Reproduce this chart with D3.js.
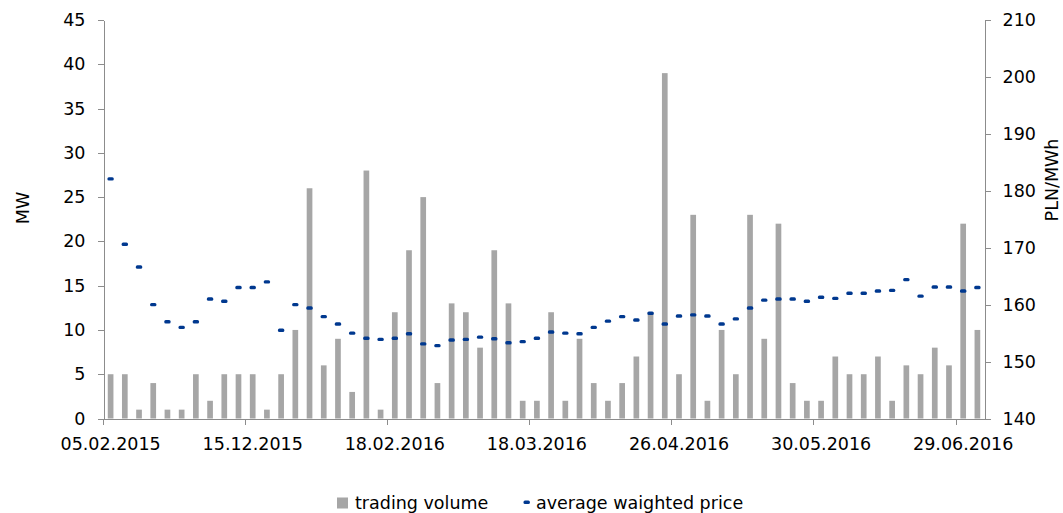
<!DOCTYPE html>
<html lang="en">
<head>
<meta charset="utf-8">
<title>Trading volume and average weighted price</title>
<script src="https://cdn.jsdelivr.net/npm/d3@7"></script>
<style>
  body { margin: 0; background: #fff; }
  svg text { font-family: "DejaVu Sans", sans-serif; font-size: 17.5px; fill: #000; }
  .axis path, .axis line { stroke: #8c8c8c; stroke-width: 1; shape-rendering: crispEdges; }
</style>
</head>
<body>
<script>
// data
var volume = [5,5,1,4,1,1,5,2,5,5,5,1,5,10,26,
              6,9,3,28,1,12,19,25,4,13,12,8,19,13,2,2,12,
              2,9,4,2,4,7,12,39,5,23,2,10,5,23,9,22,4,2,
              2,7,5,5,7,2,6,5,8,6,22,10];
var price = [182.1,170.6,166.6,160.0,157.0,156.0,157.0,161.0,160.6,163.0,163.0,164.0,155.5,160.0,159.4,157.9,
             156.6,155.0,154.1,153.9,154.1,154.9,153.1,152.8,153.8,153.9,154.3,154.0,153.3,153.5,154.1,155.2,
             155.0,154.9,156.0,157.1,157.9,157.3,158.5,156.6,158.0,158.2,158.0,156.6,157.5,159.4,160.8,161.0,161.0,160.6,
             161.3,161.1,162.0,162.0,162.4,162.5,164.4,161.5,163.1,163.1,162.4,163.0];
var tickLabels = ["05.02.2015","15.12.2015","18.02.2016","18.03.2016","26.04.2016","30.05.2016","29.06.2016"];
var labelEvery = 10;
var seriesNames = ["trading volume", "average waighted price"];

var w = 1063, h = 513;
var margin = {top: 20, right: 78.5, bottom: 94.5, left: 103.5};
var width = w - margin.left - margin.right,
    height = h - margin.top - margin.bottom;

var svg = d3.select("body").append("svg")
  .attr("width", w).attr("height", h);
var g = svg.append("g")
  .attr("transform", "translate(" + margin.left + "," + margin.top + ")");

var idx = d3.range(volume.length);

var x = d3.scaleBand().domain(idx).range([0, width])
  .paddingInner(0.6).paddingOuter(0.3);
var yL = d3.scaleLinear().domain([0, 45]).range([height, 0]);
var yR = d3.scaleLinear().domain([140, 210]).range([height, 0]);

// bars
g.append("g").selectAll("rect")
  .data(idx).enter().append("rect")
  .attr("x", function(i) { return x(i); })
  .attr("width", x.bandwidth())
  .attr("y", function(i) { return yL(volume[i]); })
  .attr("height", function(i) { return height - yL(volume[i]); })
  .style("fill", "#a6a6a6");

// price markers (short dashes)
g.append("g").selectAll("rect")
  .data(idx).enter().append("rect")
  .attr("x", function(i) { return x(i) + x.bandwidth() / 2 - 3.2; })
  .attr("y", function(i) { return yR(price[i]) - 1.7; })
  .attr("width", 6.4).attr("height", 3.4)
  .attr("rx", 1.5)
  .style("fill", "#00388f");

// left axis
var axL = g.append("g").attr("class", "axis")
  .call(d3.axisLeft(yL).tickValues(d3.range(0, 46, 5)).tickSizeInner(6).tickSizeOuter(0).tickPadding(12));
axL.selectAll("text").attr("font-family", null).attr("font-size", null);

// right axis
var axR = g.append("g").attr("class", "axis")
  .attr("transform", "translate(" + width + ",0)")
  .call(d3.axisRight(yR).tickValues(d3.range(140, 211, 10)).tickSizeInner(6).tickSizeOuter(0).tickPadding(12));
axR.selectAll("text").attr("font-family", null).attr("font-size", null);

// bottom axis: labels on every 10th category, ticks on category boundaries
var labelIdx = tickLabels.map(function(d, k) { return k * labelEvery; });
var axB = g.append("g").attr("class", "axis")
  .attr("transform", "translate(0," + height + ")")
  .call(d3.axisBottom(x).tickValues(labelIdx)
    .tickFormat(function(i) { return tickLabels[i / labelEvery]; })
    .tickSizeInner(6).tickSizeOuter(0).tickPadding(13));
axB.selectAll("text").attr("font-family", null).attr("font-size", null);
var shift = -x.step() * x.paddingInner() / 2 - x.bandwidth() / 2;
axB.selectAll(".tick line").attr("transform", "translate(" + shift + ",0)");

// axis titles
svg.append("text")
  .attr("transform", "translate(29,208) rotate(-90)")
  .attr("text-anchor", "middle")
  .text("MW");
svg.append("text")
  .attr("transform", "translate(1058,180) rotate(-90)")
  .attr("text-anchor", "middle")
  .text("PLN/MWh");

// legend
var legend = svg.append("g");
legend.append("rect")
  .attr("x", 337).attr("y", 497.5).attr("width", 11).attr("height", 11)
  .style("fill", "#a6a6a6");
legend.append("text").attr("x", 355).attr("y", 508.5).text(seriesNames[0]);
legend.append("rect")
  .attr("x", 523.5).attr("y", 500.5).attr("width", 6.4).attr("height", 3.4).attr("rx", 1.5)
  .style("fill", "#00388f");
legend.append("text").attr("x", 536).attr("y", 508.5).text(seriesNames[1]);
</script>
</body>
</html>
